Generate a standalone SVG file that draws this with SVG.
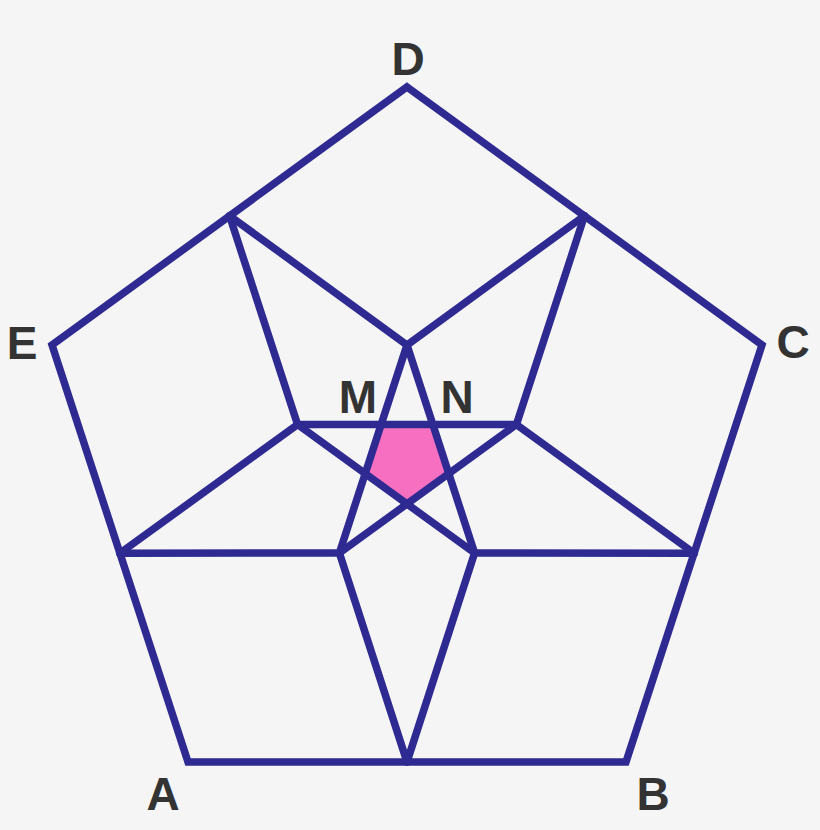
<svg xmlns="http://www.w3.org/2000/svg" width="820" height="830" viewBox="0 0 820 830">
<style>
.ln{fill:none;stroke:#2e2a92;stroke-width:7.5;stroke-linejoin:miter;stroke-linecap:round}
.lbl{font-family:"Liberation Sans",Arial,sans-serif;font-weight:bold;font-size:46px;fill:#333333;text-anchor:middle}
</style>
<rect width="820" height="830" fill="#f5f5f6"/>
<polygon id="pink" points="381.2,424.5 432.8,424.5 448.8,473.6 407,503.9 365.2,473.6" fill="#f76fc0"/>
<g id="connectors" class="ln">
<polygon points="407,87 762,345 626,762 188,762 52,345"/>
<polyline points="229.5,215.7 407,345 584.5,215.7"/>
<polyline points="584.5,215.7 516.4,424.5 694.2,553.3"/>
<polyline points="694.2,553.3 474.6,553 407,762"/>
<polyline points="407,762 339.4,553 119.8,553.3"/>
<polyline points="119.8,553.3 297.6,424.5 229.5,215.7"/>
<line x1="407" y1="345" x2="474.6" y2="553"/>
<line x1="407" y1="345" x2="339.4" y2="553"/>
<line x1="297.6" y1="424.5" x2="516.4" y2="424.5"/>
<line x1="297.6" y1="424.5" x2="474.6" y2="553"/>
<line x1="516.4" y1="424.5" x2="339.4" y2="553"/>
</g>
<g id="labels" class="lbl">
<text x="408" y="75">D</text>
<text x="22" y="359">E</text>
<text x="793" y="358">C</text>
<text x="163" y="810">A</text>
<text x="653" y="810">B</text>
<text x="358" y="413">M</text>
<text x="457" y="413">N</text>
</g>
</svg>
